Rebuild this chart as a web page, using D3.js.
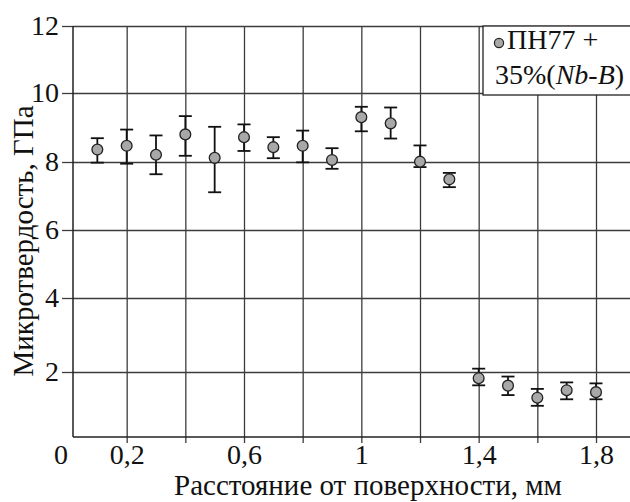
<!DOCTYPE html>
<html><head><meta charset="utf-8">
<script src="https://cdn.jsdelivr.net/npm/d3@7"></script>
<style>
html,body{margin:0;padding:0;background:#fff;}
svg{display:block;}
</style></head>
<body><svg id="c" width="630" height="502"></svg>
<script>
// Data
const distance = [0.1,0.2,0.3,0.4,0.5,0.6,0.7,0.8,0.9,1.0,1.1,1.2,1.3,1.4,1.5,1.6,1.7,1.8];
const hardness = [8.36,8.47,8.21,8.80,8.12,8.72,8.43,8.47,8.06,9.30,9.12,8.01,7.49,1.81,1.58,1.21,1.44,1.38];
const errUpper = [8.69,8.94,8.77,9.33,9.02,9.09,8.72,8.91,8.40,9.60,9.58,8.48,7.68,2.09,1.86,1.48,1.68,1.65];
const errLower = [7.98,7.95,7.64,8.18,7.11,8.32,8.11,7.99,7.80,8.89,8.68,7.85,7.26,1.59,1.29,0.96,1.16,1.16];
const yTicks = [2,4,6,8,10,12];
const xTicks = [0.2,0.4,0.6,0.8,1.0,1.2,1.4,1.6,1.8];
const xLabeled = [0.2,0.6,1.0,1.4,1.8];
const seriesName = "ПН77 +";
const xTitle = "Расстояние от поверхности, мм";
const yTitle = "Микротвердость, ГПа";

(function(){
const FONT = '"Liberation Serif"';
const svg = d3.select("#c");
const mLeft = 73, mTop = 26, mBottom = 437, mRight = 640;

const x = d3.scaleLinear().domain([0, 1.8]).range([68, 596]);
const y = d3.scaleLinear().domain([0,2,4,6,8,10,12]).range([437,372,298,230,162,93,26]);

const gridColor = "#3c3c3c";

// horizontal grid + y axis ticks
const yAxis = d3.axisLeft(y).tickValues(yTicks).tickSize(11).tickPadding(3)
  .tickFormat(d => String(d));
const gy = svg.append("g").attr("transform", `translate(${mLeft},0)`).call(yAxis);
gy.select(".domain").remove();
gy.selectAll(".tick line").attr("stroke", gridColor).attr("stroke-width", 1.3);
gy.selectAll(".tick text").style("font-family", FONT).style("font-size", "28px").attr("fill", "#111");
gy.selectAll(".tick").append("line").attr("x1", 0).attr("x2", mRight - mLeft)
  .attr("stroke", gridColor).attr("stroke-width", 1.3);

// vertical grid + x axis ticks
const xAxis = d3.axisBottom(x).tickValues(xTicks).tickSize(6).tickPadding(1)
  .tickFormat(d => xLabeled.some(v => Math.abs(v - d) < 1e-9) ? String(+d.toFixed(1)).replace(".", ",") : "");
const gx = svg.append("g").attr("transform", `translate(0,${mBottom})`).call(xAxis);
gx.select(".domain").remove();
gx.selectAll(".tick line").attr("stroke", gridColor).attr("stroke-width", 1.3);
gx.selectAll(".tick text").style("font-family", FONT).style("font-size", "28px").attr("fill", "#111");
gx.selectAll(".tick").append("line").attr("y1", 0).attr("y2", mTop - mBottom)
  .attr("stroke", gridColor).attr("stroke-width", 1.3);

// origin label
svg.append("text").attr("x", 61).attr("y", 464).attr("text-anchor", "middle")
  .style("font-family", FONT).style("font-size", "28px").attr("fill", "#111").text("0");

// axes lines
svg.append("line").attr("x1", mLeft).attr("x2", mLeft).attr("y1", mTop).attr("y2", mBottom)
  .attr("stroke", "#222").attr("stroke-width", 1.5);
svg.append("line").attr("x1", mLeft).attr("x2", mRight).attr("y1", mBottom).attr("y2", mBottom)
  .attr("stroke", "#222").attr("stroke-width", 1.5);

// error bars
const pts = distance.map((d, i) => ({x: d, y: hardness[i], hi: errUpper[i], lo: errLower[i]}));
const eb = svg.append("g").attr("stroke", "#111").attr("stroke-width", 1.8);
eb.selectAll("line.v").data(pts).join("line").attr("class", "v")
  .attr("x1", d => x(d.x)).attr("x2", d => x(d.x)).attr("y1", d => y(d.hi)).attr("y2", d => y(d.lo));
eb.selectAll("line.t").data(pts).join("line").attr("class", "t")
  .attr("x1", d => x(d.x) - 6.5).attr("x2", d => x(d.x) + 6.5).attr("y1", d => y(d.hi)).attr("y2", d => y(d.hi));
eb.selectAll("line.b").data(pts).join("line").attr("class", "b")
  .attr("x1", d => x(d.x) - 6.5).attr("x2", d => x(d.x) + 6.5).attr("y1", d => y(d.lo)).attr("y2", d => y(d.lo));

// markers
svg.append("g").selectAll("circle").data(pts).join("circle")
  .attr("cx", d => x(d.x)).attr("cy", d => y(d.y)).attr("r", 5.4)
  .attr("fill", "#a8a8a8").attr("stroke", "#222").attr("stroke-width", 1.3);

// legend
const lg = svg.append("g");
lg.append("rect").attr("x", 483).attr("y", 26).attr("width", 160).attr("height", 69)
  .attr("fill", "#fff").attr("stroke", "#222").attr("stroke-width", 1.3);
lg.append("circle").attr("cx", 499).attr("cy", 43).attr("r", 4.6)
  .attr("fill", "#a8a8a8").attr("stroke", "#222").attr("stroke-width", 1.2);
lg.append("text").attr("x", 507).attr("y", 49).style("font-family", FONT).style("font-size", "28px")
  .attr("fill", "#111").text(seriesName);
const l2 = lg.append("text").attr("x", 495).attr("y", 84).style("font-family", FONT).style("font-size", "28px")
  .attr("fill", "#111");
l2.append("tspan").text("35%(");
l2.append("tspan").style("font-style", "italic").text("Nb");
l2.append("tspan").text("-");
l2.append("tspan").style("font-style", "italic").text("B");
l2.append("tspan").text(")");

// axis titles
svg.append("text").attr("x", 368).attr("y", 495).attr("text-anchor", "middle")
  .style("font-family", FONT).style("font-size", "29px").attr("fill", "#111").text(xTitle);
svg.append("text").attr("transform", "translate(33,241) rotate(-90)").attr("text-anchor", "middle")
  .style("font-family", FONT).style("font-size", "29px").attr("fill", "#111").text(yTitle);
})();
</script></body></html>
